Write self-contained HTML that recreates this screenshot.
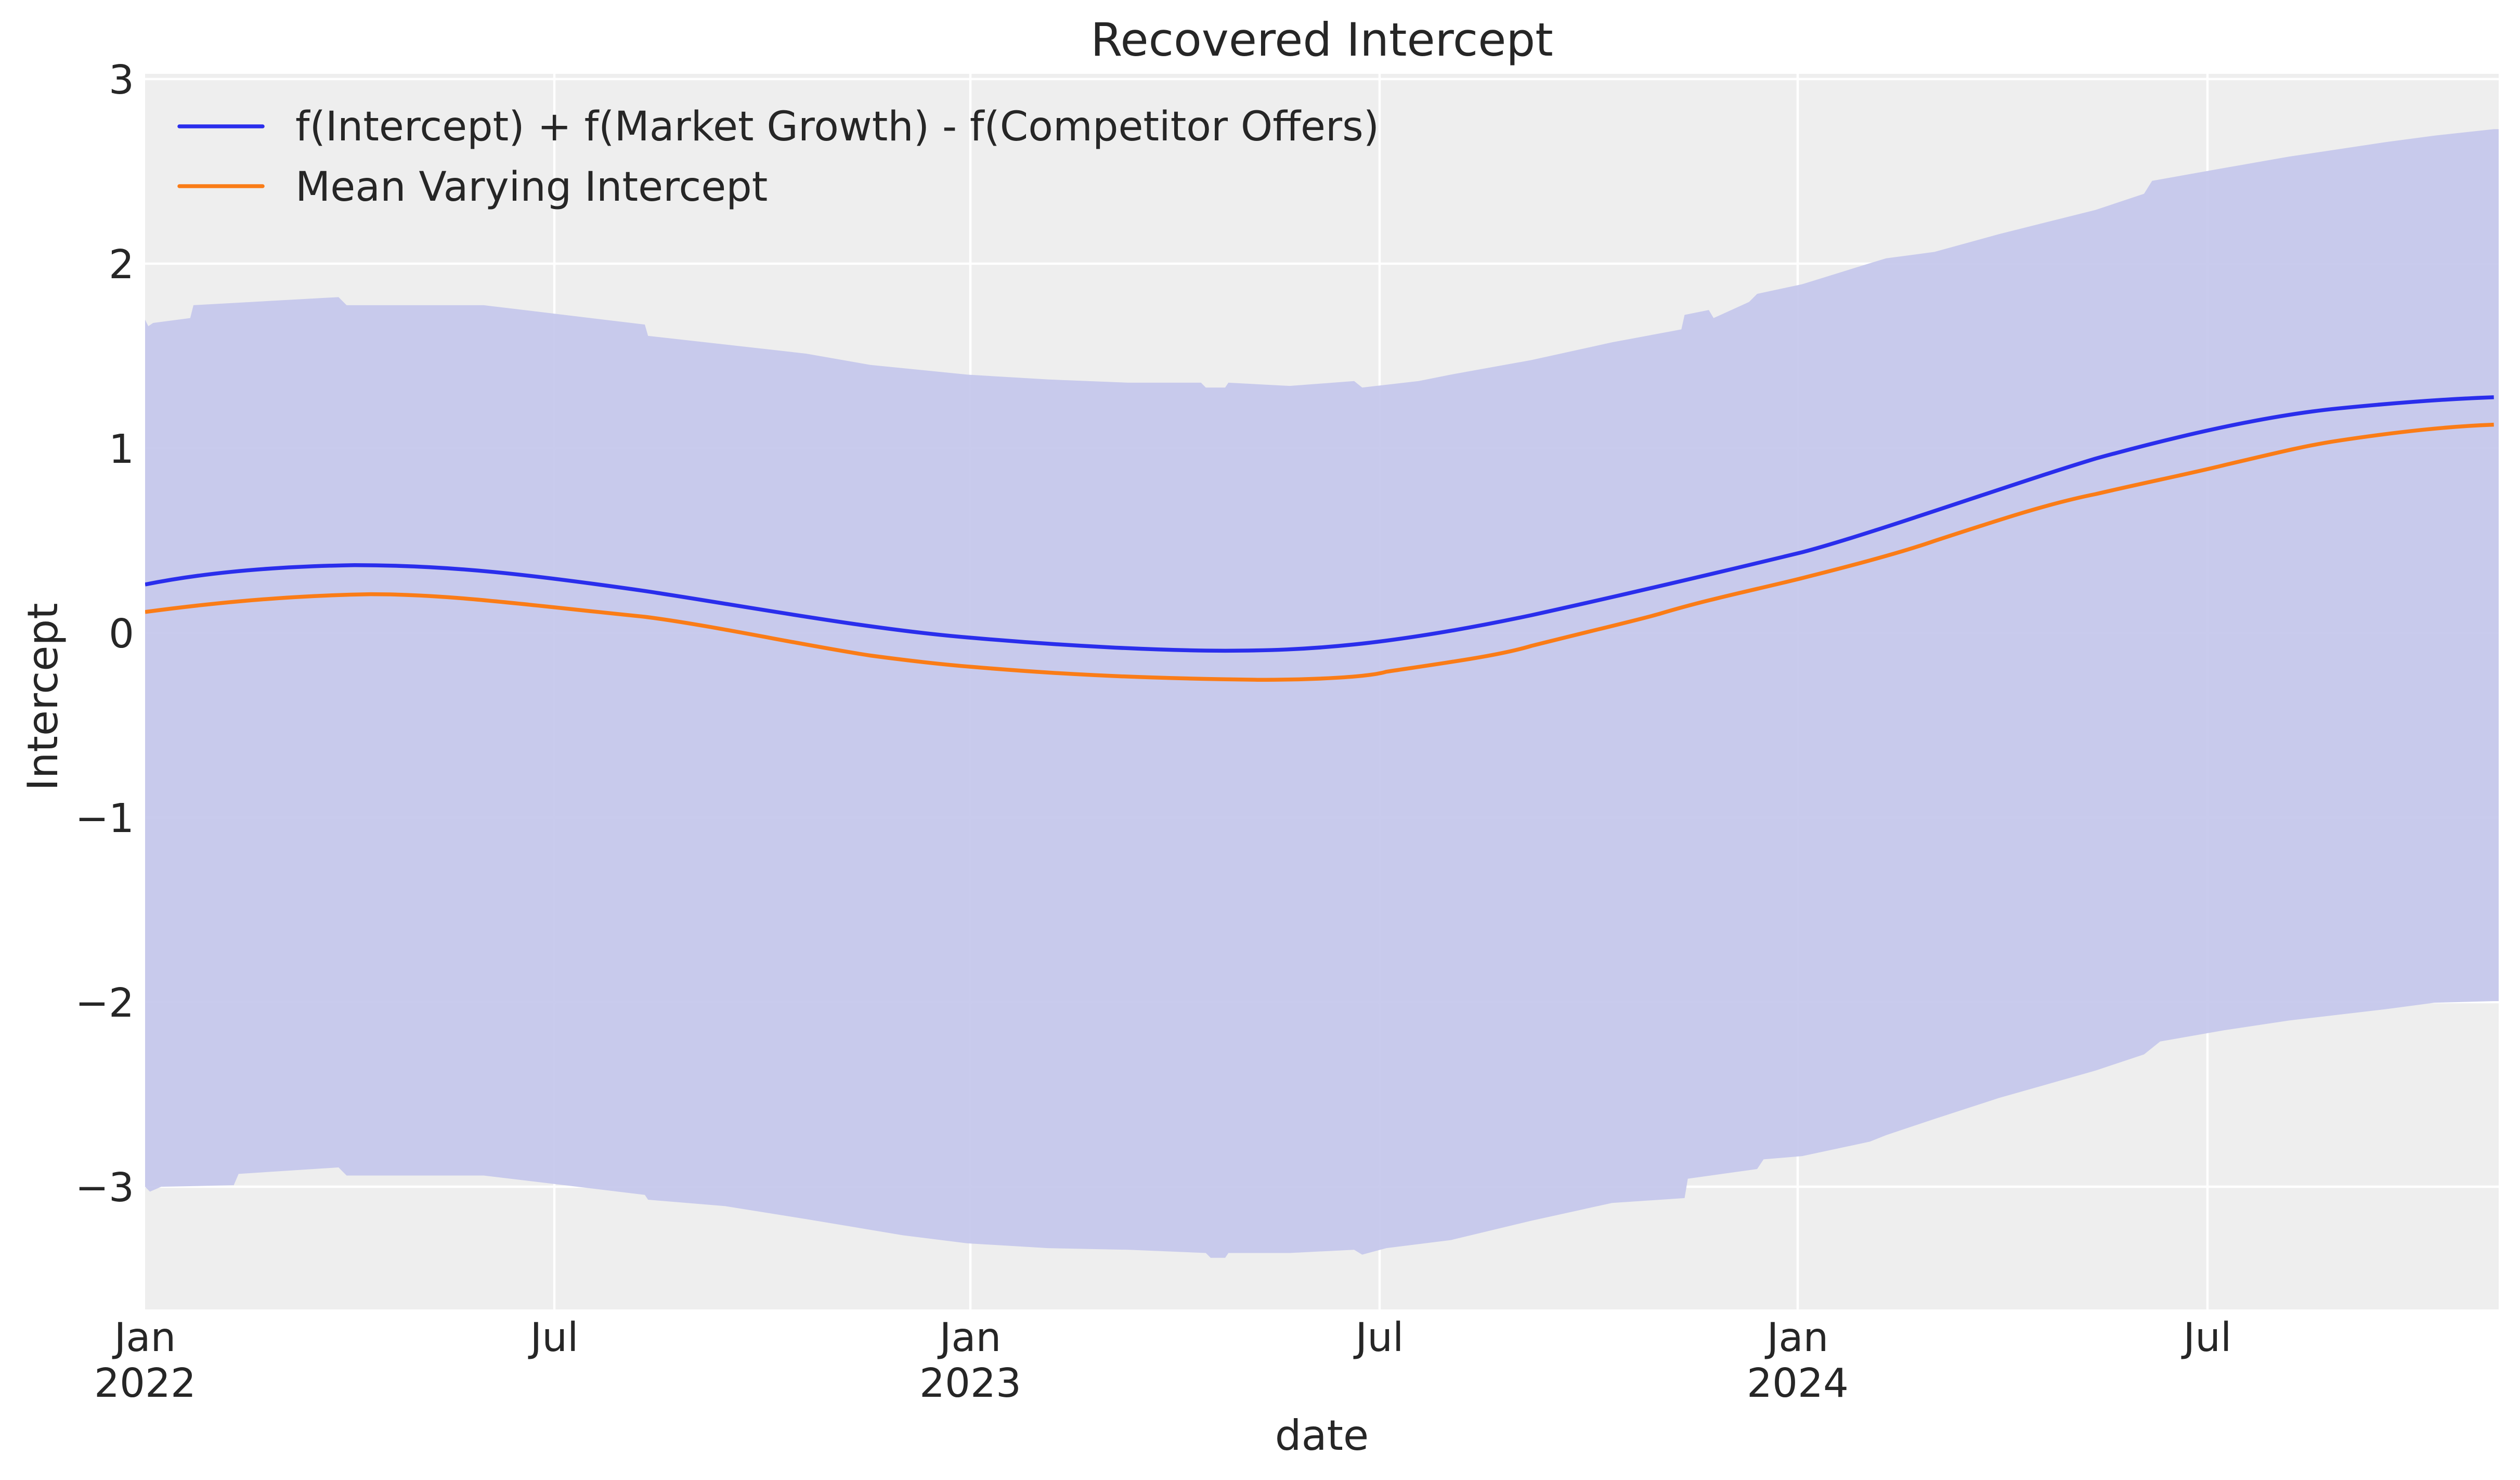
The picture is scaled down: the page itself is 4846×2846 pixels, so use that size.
<!DOCTYPE html>
<html><head><meta charset="utf-8"><style>
html,body{margin:0;padding:0;background:#fff;}
svg{display:block;}
text{font-family:"DejaVu Sans","Liberation Sans",sans-serif;fill:#262626;}
</style></head><body>
<svg width="4846" height="2846" viewBox="0 0 4846 2846" xmlns="http://www.w3.org/2000/svg">
<defs><clipPath id="ax"><rect x="279" y="142" width="4526" height="2376"/></clipPath></defs>
<rect x="279" y="142" width="4526" height="2376" fill="#eeeeee"/>
<g stroke="#ffffff" stroke-width="4.5">
<line x1="279" x2="4805" y1="152" y2="152"/>
<line x1="279" x2="4805" y1="507" y2="507"/>
<line x1="279" x2="4805" y1="862" y2="862"/>
<line x1="279" x2="4805" y1="1217" y2="1217"/>
<line x1="279" x2="4805" y1="1572" y2="1572"/>
<line x1="279" x2="4805" y1="1927" y2="1927"/>
<line x1="279" x2="4805" y1="2282" y2="2282"/>
<line y1="142" y2="2518" x1="1066" x2="1066"/>
<line y1="142" y2="2518" x1="1866" x2="1866"/>
<line y1="142" y2="2518" x1="2653" x2="2653"/>
<line y1="142" y2="2518" x1="3457" x2="3457"/>
<line y1="142" y2="2518" x1="4245" x2="4245"/>
</g>
<g clip-path="url(#ax)">
<g transform="scale(3.1,3.105)">
<path fill="#c5c7ec" fill-opacity="0.93" d="M88,198 L90,198 L92,202 L95,200 L118,197 L120,189 L210,184 L215,189 L300,189 L400,201 L402,208 L500,219 L540,226 L600,232 L650,235 L700,237 L745,237 L748,240 L760,240 L762,237 L800,239 L840,236 L845,240 L880,236 L900,232 L950,223 L1000,212 L1043,204 L1045,195 L1060,192 L1063,197 L1085,187 L1090,182 L1118,176 L1160,163 L1170,160 L1200,156 L1240,145 L1300,130 L1330,120 L1335,112 L1380,104 L1420,97 L1480,88 L1510,84 L1547,80 L1560,80 L1560,620 L1547,620 L1510,621 L1480,625 L1420,632 L1380,638 L1340,645 L1330,653 L1300,663 L1240,680 L1200,693 L1170,703 L1160,707 L1118,716 L1094,718 L1090,724 L1047,730 L1045,742 L1000,745 L950,756 L900,768 L860,773 L845,777 L840,774 L800,776 L762,776 L760,779 L751,779 L748,776 L700,774 L650,773 L600,770 L560,765 L500,755 L450,747 L402,743 L400,740 L300,728 L215,728 L210,723 L148,727 L145,734 L100,735 L93,738 L90,735 L88,735 Z"/>
<path fill="none" stroke="#2a2eec" stroke-width="7.5" vector-effect="non-scaling-stroke" stroke-linejoin="round" d="M90,362 C120,356 160,351 220,350 C280,350 330,356 400,366 C460,375 540,390 603,395 C660,400 720,403 760,403 C810,403 860,400 950,381 C1000,370 1060,356 1118,342 C1160,331 1250,299 1300,284 C1340,273 1400,258 1450,253 C1490,249 1520,247 1547,246"/>
<path fill="none" stroke="#fa7c17" stroke-width="7.5" vector-effect="non-scaling-stroke" stroke-linejoin="round" d="M90,379 C120,375 170,369 230,368 C280,368 330,375 400,382 C440,387 500,400 540,406 C570,410 590,412 603,413 C650,417 700,420 780,421 C820,421 850,419 860,416 C900,410 930,406 950,400 C990,390 1020,383 1030,380 C1060,371 1090,365 1118,358 C1150,350 1180,342 1200,335 C1240,322 1270,312 1300,306 C1330,299 1360,293 1380,288 C1410,281 1430,276 1450,273 C1490,267 1520,264 1547,263"/>
</g>
</g>
<line x1="345" y1="243" x2="505" y2="243" stroke="#2a2eec" stroke-width="7.5" stroke-linecap="round"/>
<line x1="345" y1="358" x2="505" y2="358" stroke="#fa7c17" stroke-width="7.5" stroke-linecap="round"/>
<text x="568" y="270" font-size="78">f(Intercept) + f(Market Growth) - f(Competitor Offers)</text>
<text x="568" y="386" font-size="78">Mean Varying Intercept</text>
<text x="2542" y="107" font-size="88" text-anchor="middle">Recovered Intercept</text>
<g font-size="77" text-anchor="end">
<text x="258" y="180">3</text>
<text x="258" y="535">2</text>
<text x="258" y="890">1</text>
<text x="258" y="1245">0</text>
<text x="258" y="1600">−1</text>
<text x="258" y="1955">−2</text>
<text x="258" y="2310">−3</text>
</g>
<g font-size="77" text-anchor="middle">
<text x="279" y="2598">Jan</text><text x="279" y="2686">2022</text>
<text x="1066" y="2598">Jul</text>
<text x="1866" y="2598">Jan</text><text x="1866" y="2686">2023</text>
<text x="2653" y="2598">Jul</text>
<text x="3457" y="2598">Jan</text><text x="3457" y="2686">2024</text>
<text x="4245" y="2598">Jul</text>
</g>
<text x="2542" y="2788" font-size="80" text-anchor="middle">date</text>
<text transform="translate(110,1340) rotate(-90)" font-size="80" text-anchor="middle">Intercept</text>
</svg>
</body></html>
